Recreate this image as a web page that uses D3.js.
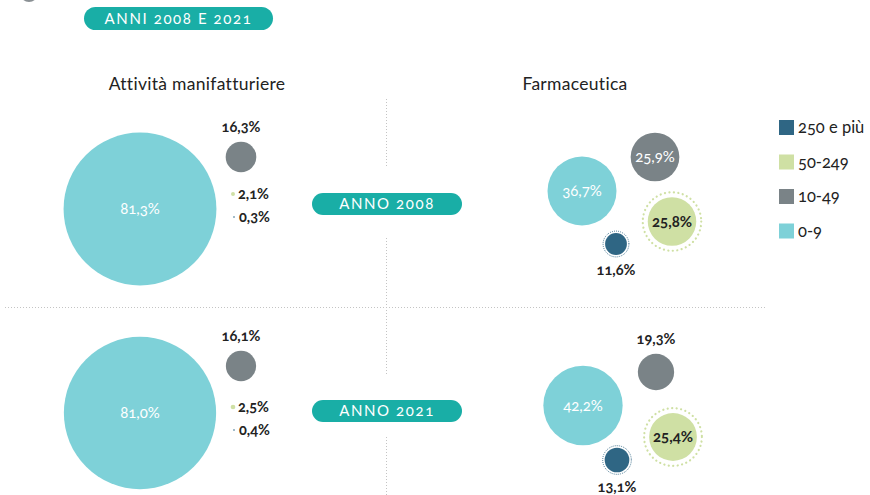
<!DOCTYPE html>
<html>
<head>
<meta charset="utf-8">
<script src="https://cdn.jsdelivr.net/npm/d3@7"></script>
<style>
  body { margin: 0; background: #fff; }
  svg { font-family: Lato, "Open Sans", sans-serif; font-variant-numeric: oldstyle-nums; }
</style>
</head>
<body>
<div id="chart"></div>
<script>
// classi di addetti
const classes = ["0-9", "10-49", "50-249", "250 e più"];
const legendOrder = ["250 e più", "50-249", "10-49", "0-9"];

// quote % per anno
const manif2008 = [81.3, 16.3, 2.1, 0.3];
const manif2021 = [81.0, 16.1, 2.5, 0.4];
const farma2008 = [36.7, 25.9, 25.8, 11.6];
const farma2021 = [42.2, 19.3, 25.4, 13.1];

const sectors = ["Attività manifatturiere", "Farmaceutica"];
const years = ["2008", "2021"];

const colors = {
  "0-9": "#7ed1d8",
  "10-49": "#7a8387",
  "50-249": "#cfe0a4",
  "250 e più": "#2f6684"
};

const width = 870, height = 495;
const svg = d3.select("#chart").append("svg")
  .attr("width", width)
  .attr("height", height);

const it = d3.formatLocale({ decimal: ",", thousands: ".", grouping: [3], currency: ["", "€"] });
const fmt = v => it.format(".1f")(v) + "%";

// raggio proporzionale al valore
const r = d3.scaleLinear().domain([0, 100]).range([0, 94]);

// posizione dei cerchi e delle etichette (pos: in = dentro, top, right, bottom)
const layout = {
  "manif-2008": [
    { x: 140, y: 209, pos: "in" }, { x: 241, y: 157, pos: "top" },
    { x: 233, y: 194, pos: "right" }, { x: 234, y: 217, pos: "right" }],
  "manif-2021": [
    { x: 140, y: 413, pos: "in" }, { x: 241, y: 366, pos: "top" },
    { x: 233, y: 407, pos: "right" }, { x: 234, y: 430, pos: "right" }],
  "farma-2008": [
    { x: 582, y: 191, pos: "in" }, { x: 655, y: 157, pos: "in" },
    { x: 672, y: 221.5, pos: "in", ring: true }, { x: 616, y: 244, pos: "bottom", ring: true }],
  "farma-2021": [
    { x: 583, y: 405.5, pos: "in" }, { x: 656, y: 372, pos: "top" },
    { x: 673, y: 437, pos: "in", ring: true }, { x: 617, y: 460, pos: "bottom", ring: true }]
};

const panels = [
  { key: "manif-2008", values: manif2008 },
  { key: "manif-2021", values: manif2021 },
  { key: "farma-2008", values: farma2008 },
  { key: "farma-2021", values: farma2021 }
];

// griglia tratteggiata
const grid = svg.append("g").attr("stroke", "#c4c4c4").attr("stroke-dasharray", "1,2").attr("stroke-width", 1);
grid.append("line").attr("x1", 5).attr("x2", 766).attr("y1", 307.5).attr("y2", 307.5);
[[99, 168], [238, 375], [437, 495]].forEach(s => {
  grid.append("line").attr("x1", 386.5).attr("x2", 386.5).attr("y1", s[0]).attr("y2", s[1]);
});

// piccolo elemento tagliato in alto
svg.append("circle").attr("cx", 29).attr("cy", -7).attr("r", 9).attr("fill", "#8a9094");

// etichette a pillola
function pill(x, y, w, h, text, size) {
  const g = svg.append("g");
  g.append("rect").attr("x", x).attr("y", y).attr("width", w).attr("height", h)
    .attr("rx", h / 2).attr("fill", "#19aea6");
  g.append("text").attr("x", x + w / 2).attr("y", y + h / 2 + size * 0.36)
    .attr("text-anchor", "middle").attr("fill", "#fff")
    .attr("font-size", size).attr("letter-spacing", 1.6)
    .text(text);
}
pill(84, 7, 189, 23, "ANNI 2008 E 2021", 15);
years.forEach((y, i) => pill(312, i === 0 ? 193 : 400, 150, 22, "ANNO " + y, 15));

// titoli
svg.selectAll(".title").data(sectors).join("text")
  .attr("class", "title")
  .attr("x", (d, i) => i === 0 ? 197 : 575)
  .attr("y", 90)
  .attr("text-anchor", "middle")
  .attr("font-size", 17.5)
  .attr("letter-spacing", 0.3)
  .attr("fill", "#222")
  .text(d => d);

// cerchi
panels.forEach(p => {
  const g = svg.append("g");
  const rows = p.values.map((v, i) => ({ v, cls: classes[i], ...layout[p.key][i] }));

  g.selectAll(".ring").data(rows.filter(d => d.ring)).join("circle")
    .attr("cx", d => d.x).attr("cy", d => d.y)
    .attr("r", d => d.cls === "50-249" ? r(d.v) + 5 : r(d.v) + 2)
    .attr("fill", "none")
    .attr("stroke", d => colors[d.cls])
    .attr("stroke-width", d => d.cls === "50-249" ? 2.2 : 1)
    .attr("stroke-dasharray", d => d.cls === "50-249" ? "0.1,4.4" : "0.1,2")
    .attr("stroke-linecap", "round");

  g.selectAll(".bubble").data(rows).join("circle")
    .attr("cx", d => d.x).attr("cy", d => d.y)
    .attr("r", d => Math.max(r(d.v), 0.8))
    .attr("fill", d => colors[d.cls]);

  g.selectAll(".lab").data(rows).join("text")
    .attr("x", d => d.pos === "right" ? d.x + 5 : d.x)
    .attr("y", d => {
      if (d.pos === "in") return d.y + 5;
      if (d.pos === "top") return d.y - r(d.v) - 10;
      if (d.pos === "bottom") return d.y + r(d.v) + 20;
      return d.y + 4.5;
    })
    .attr("text-anchor", d => d.pos === "right" ? "start" : "middle")
    .attr("font-size", d => d.pos === "in" ? 15 : 14.5)
    .attr("font-weight", d => d.pos === "in" && d.cls !== "50-249" ? "normal" : "bold")
    .attr("fill", d => d.pos === "in" && d.cls !== "50-249" ? "#fff" : "#222")
    .text(d => fmt(d.v));
});

// legenda
const legend = svg.append("g").attr("transform", "translate(779,120)");
const item = legend.selectAll("g").data(legendOrder).join("g")
  .attr("transform", (d, i) => `translate(0,${i * 34.5})`);
item.append("rect").attr("width", 15).attr("height", 15).attr("fill", d => colors[d]);
item.append("text").attr("x", 19).attr("y", 13).attr("font-size", 16.5).attr("fill", "#222").text(d => d);
</script>
</body>
</html>
